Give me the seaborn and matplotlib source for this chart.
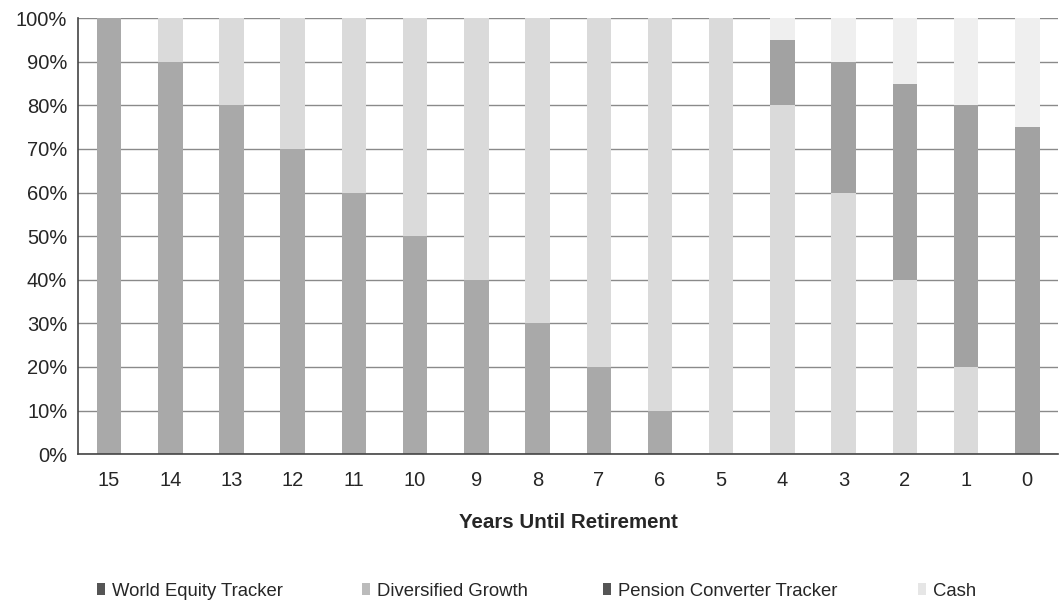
import numpy as np
import pandas as pd
import seaborn as sns
import matplotlib.pyplot as plt
from matplotlib.patches import Patch

years = ["15", "14", "13", "12", "11", "10", "9", "8", "7", "6", "5", "4", "3", "2", "1", "0"]
world_equity = [100, 90, 80, 70, 60, 50, 40, 30, 20, 10, 0, 0, 0, 0, 0, 0]
diversified = [0, 10, 20, 30, 40, 50, 60, 70, 80, 90, 100, 80, 60, 40, 20, 0]
pension_conv = [0, 0, 0, 0, 0, 0, 0, 0, 0, 0, 0, 15, 30, 45, 60, 75]
cash = [0, 0, 0, 0, 0, 0, 0, 0, 0, 0, 0, 5, 10, 15, 20, 25]

names = ["World Equity Tracker", "Diversified Growth", "Pension Converter Tracker", "Cash"]
colors = ["#a9a9a9", "#dadada", "#a2a2a2", "#efefef"]
legend_colors = ["#555555", "#bbbbbb", "#555555", "#e6e6e6"]

df = pd.DataFrame({"year": years})
df["c1"] = np.array(world_equity) / 100
df["c2"] = df["c1"] + np.array(diversified) / 100
df["c3"] = df["c2"] + np.array(pension_conv) / 100
df["c4"] = df["c3"] + np.array(cash) / 100

sns.set_style("white")
plt.rcParams["font.family"] = ["Liberation Sans", "DejaVu Sans"]

fig = plt.figure(figsize=(10.6, 6.04), dpi=100)
ax = fig.add_axes([0.074, 0.248, 0.924, 0.722])

# draw cumulative totals back to front
for col, c in zip(["c4", "c3", "c2", "c1"], colors[::-1]):
    sns.barplot(data=df, x="year", y=col, order=years, color=c, width=0.4,
                saturation=1, ax=ax, edgecolor="none")

ax.set_ylim(0, 1)
ax.set_xlim(-0.5, len(years) - 0.5)
ticks = np.arange(0, 1.01, 0.1)
ax.set_yticks(ticks)
ax.set_yticklabels([f"{int(round(v*100))}%" for v in ticks], fontsize=14.5)
ax.tick_params(axis="x", labelsize=14.5, length=0, pad=12)
ax.tick_params(axis="y", length=5, width=1, color="#555555", direction="out", pad=3)
ax.set_xticks(np.arange(-0.5, len(years), 1), minor=True)
ax.tick_params(axis="x", which="minor", length=3, color="#888888", direction="out")
ax.grid(axis="y", color="#8a8a8a", linewidth=1)
ax.set_axisbelow(True)
for s in ["top", "right"]:
    ax.spines[s].set_visible(False)
for s in ["left", "bottom"]:
    ax.spines[s].set_color("#444444")
    ax.spines[s].set_linewidth(1.2)

ax.set_ylabel("")
ax.set_xlabel("Years Until Retirement", fontsize=14.8, fontweight="bold", labelpad=17)

# legend entries placed one by one, like the Excel legend
leg_x = [97, 362, 603, 918]
for name, c, x in zip(names, legend_colors, leg_x):
    fig.legend([Patch(facecolor=c, edgecolor="none")], [name], loc="center left",
               bbox_to_anchor=(x / 1060, 1 - 591 / 604), frameon=False,
               fontsize=13.3, handlelength=0.45, handleheight=0.55,
               handletextpad=0.35, borderpad=0, borderaxespad=0)

fig.savefig("out.png", dpi=100)
